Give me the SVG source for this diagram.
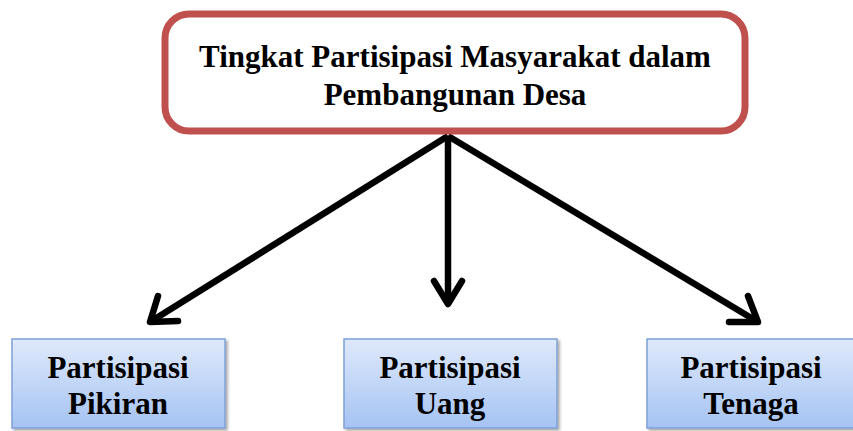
<svg xmlns="http://www.w3.org/2000/svg" width="853" height="431" viewBox="0 0 853 431">
<style>
.t{font-family:"Liberation Serif","DejaVu Serif",serif;font-weight:bold;font-size:31px;fill:#000;text-anchor:middle}
.box{fill:url(#g);stroke:#7fa1d6;stroke-width:1.5}
.con{stroke:#000;stroke-width:6.5;fill:none}
.ah{stroke:#000;stroke-width:6.5;fill:none;stroke-linecap:round;stroke-linejoin:round}
</style>
<defs>
<linearGradient id="g" x1="0" y1="0" x2="0" y2="1">
<stop offset="0" stop-color="#dfe9fb"/>
<stop offset="1" stop-color="#a5c3f3"/>
</linearGradient>
<filter id="sh" x="-10%" y="-10%" width="130%" height="130%">
<feDropShadow dx="2" dy="2" stdDeviation="1.5" flood-color="#000" flood-opacity="0.35"/>
</filter>
</defs>
<g id="connectors">
<line class="con" x1="448" y1="136" x2="150" y2="322"/>
<line class="con" x1="448" y1="136" x2="448" y2="304"/>
<line class="con" x1="448" y1="136" x2="758" y2="322"/>
<polyline class="ah" points="158,296 150,322 178,321"/>
<polyline class="ah" points="434,281 448,304 462,281"/>
<polyline class="ah" points="729,322 758,322 748,296"/>
</g>
<g id="top">
<rect x="165" y="14" width="580" height="117" rx="24" fill="#fff" stroke="#c0504d" stroke-width="7"/>
<text class="t" x="455" y="67">Tingkat Partisipasi Masyarakat dalam</text>
<text class="t" x="455" y="105">Pembangunan Desa</text>
</g>
<g id="pikiran">
<rect class="box" x="12" y="339" width="213" height="89" filter="url(#sh)"/>
<text class="t" x="118" y="378">Partisipasi</text>
<text class="t" x="118" y="414">Pikiran</text>
</g>
<g id="uang">
<rect class="box" x="344" y="339" width="213" height="89" filter="url(#sh)"/>
<text class="t" x="450" y="378">Partisipasi</text>
<text class="t" x="450" y="414">Uang</text>
</g>
<g id="tenaga">
<rect class="box" x="647" y="339" width="213" height="89" filter="url(#sh)"/>
<text class="t" x="751" y="378">Partisipasi</text>
<text class="t" x="751" y="414">Tenaga</text>
</g>
</svg>
